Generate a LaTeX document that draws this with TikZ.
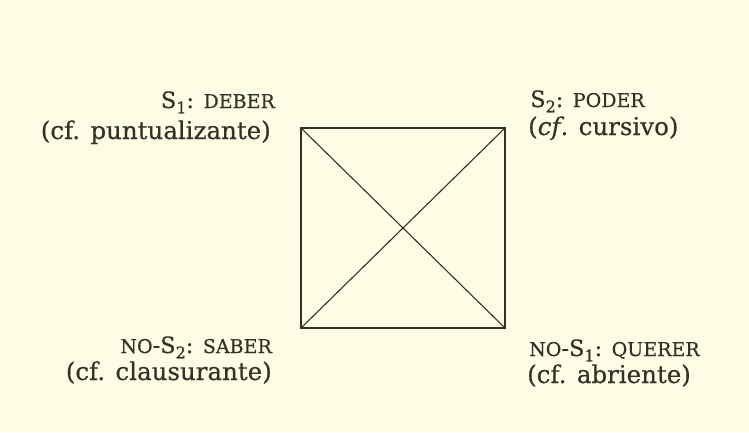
\documentclass[tikz,border=0pt]{standalone}
\usepackage{fontspec}
\setmainfont{DejaVu Serif}[UprightFeatures={FakeBold=0.4},ItalicFeatures={FakeBold=0.4}]
\definecolor{paper}{RGB}{253,253,230}
\definecolor{ink}{RGB}{50,50,40}
\newcommand{\sub}[1]{\raisebox{-0.45ex}[\height][0pt]{\fontsize{16}{16}\selectfont #1}}
\newcommand{\fsc}[1]{{\fontsize{19}{19}\selectfont #1}}
\begin{document}
\begin{tikzpicture}[x=1pt,y=-1pt,
  lineone/.style={inner sep=0pt,text=ink,font=\fontsize{22.5}{22.5}\selectfont},
  linetwo/.style={inner sep=0pt,text=ink,font=\fontsize{24.5}{24.5}\selectfont},
  edge/.style={draw=ink,line width=1.6pt},
  diag/.style={draw=ink,line width=1.1pt}]
\fill[paper] (0,0) rectangle (749,432);
\useasboundingbox (0,0) rectangle (749,432);
\coordinate (tl) at (301,128);
\coordinate (tr) at (505,128);
\coordinate (br) at (505,328);
\coordinate (bl) at (301,328);
\draw[edge] (tl) -- (tr) -- (br) -- (bl) -- cycle;
\draw[diag] (tl) -- (br);
\draw[diag] (tr) -- (bl);
\node[lineone,anchor=base east] (s1) at (275,108) {S\sub{1}: \fsc{DEBER}};
\node[linetwo,anchor=base east] (s1b) at (271,139) {(cf. puntualizante)};
\node[lineone,anchor=base west] (s2) at (530,107) {S\sub{2}: \fsc{PODER}};
\node[linetwo,anchor=base west] (s2b) at (528,135) {(\textit{cf}. cursivo)};
\node[lineone,anchor=base east] (n2) at (272,353) {\fsc{NO}-S\sub{2}: \fsc{SABER}};
\node[linetwo,anchor=base east] (n2b) at (272,380) {(cf. clausurante)};
\node[lineone,anchor=base west] (n1) at (529,356) {\fsc{NO}-S\sub{1}: \fsc{QUERER}};
\node[linetwo,anchor=base west] (n1b) at (527,383) {(cf. abriente)};
\end{tikzpicture}
\end{document}
